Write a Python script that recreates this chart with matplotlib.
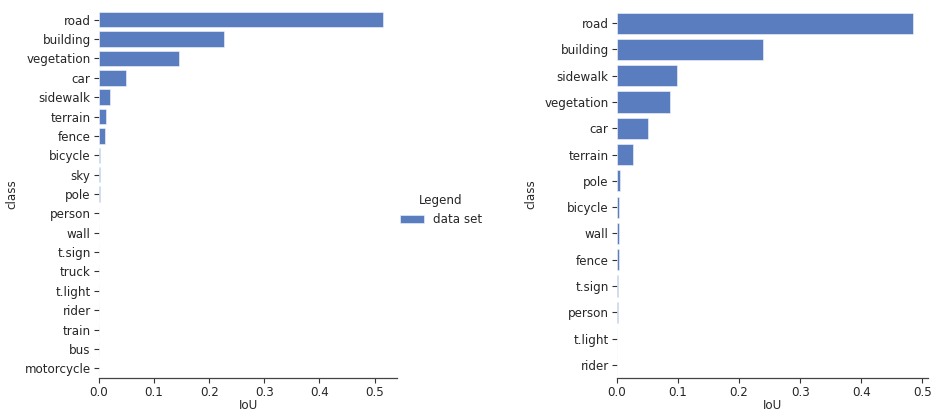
import matplotlib
matplotlib.use("Agg")
import matplotlib.pyplot as plt
import seaborn as sns

# per-class IoU, two data sets, sorted descending
classes_a = ["road", "building", "vegetation", "car", "sidewalk", "terrain", "fence",
             "bicycle", "sky", "pole", "person", "wall", "t.sign", "truck", "t.light",
             "rider", "train", "bus", "motorcycle"]
iou_a = [0.515, 0.227, 0.146, 0.049, 0.0195, 0.013, 0.0105,
         0.0025, 0.002, 0.0015, 0.0, 0.0, 0.0, 0.0, 0.0,
         0.0, 0.0, 0.0, 0.0]

classes_b = ["road", "building", "sidewalk", "vegetation", "car", "terrain", "pole",
             "bicycle", "wall", "fence", "t.sign", "person", "t.light", "rider"]
iou_b = [0.485, 0.239, 0.098, 0.086, 0.050, 0.027, 0.005,
         0.004, 0.004, 0.003, 0.0015, 0.0015, 0.0, 0.0]

sns.set_theme(style="ticks")
plt.rcParams["font.family"] = ["DejaVu Sans"]
bar_color = "#597dbf"
fs = 8.6

fig = plt.figure(figsize=(9.32, 4.13), dpi=100)
ax1 = fig.add_axes([99 / 932, 1 - 378 / 413, 298 / 932, 368 / 413])
ax2 = fig.add_axes([617 / 932, 1 - 378 / 413, 311 / 932, 368 / 413])

for ax, classes, vals in [(ax1, classes_a, iou_a), (ax2, classes_b, iou_b)]:
    pos = range(len(classes))
    ax.barh(pos, vals, height=0.8, color=bar_color, edgecolor="#f4f7fc",
            linewidth=0.4, label="data set")
    ax.set_yticks(list(pos))
    ax.set_yticklabels(classes)
    ax.set_ylim(len(classes) - 0.5, -0.5)
    ax.set_xlim(0, max(vals) * 1.05)
    ax.set_xticks([0.0, 0.1, 0.2, 0.3, 0.4, 0.5])
    ax.set_xlabel("IoU", fontsize=fs, labelpad=0)
    ax.set_ylabel("class", fontsize=fs)
    sns.despine(ax=ax, left=True)
    ax.spines["bottom"].set_linewidth(0.9)
    ax.spines["bottom"].set_color("#444444")
    ax.tick_params(labelsize=fs, length=3.5, width=0.8, color="#333333", pad=2.5,
                   left=True, bottom=True)

ax1.yaxis.set_label_coords(-0.27, 0.5)
ax2.yaxis.set_label_coords(-0.255, 0.5)

handles, labels = ax1.get_legend_handles_labels()
fig.legend(handles, labels, title="Legend", frameon=False, loc="center",
           bbox_to_anchor=(441 / 932, 1 - 210 / 413), fontsize=fs, title_fontsize=fs)

fig.savefig("out.png", dpi=100)
